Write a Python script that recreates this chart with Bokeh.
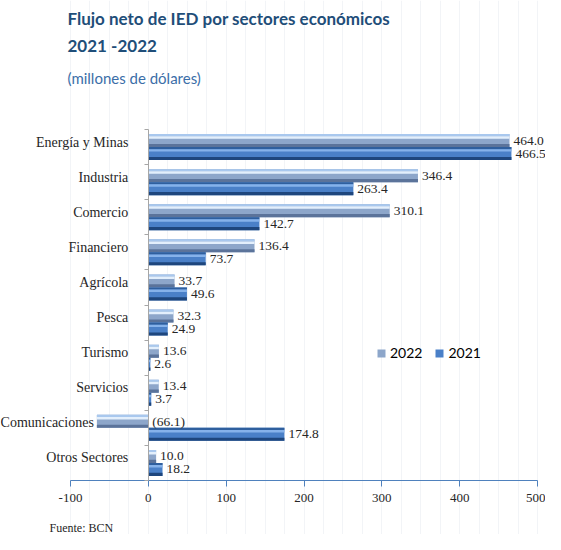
from bokeh.plotting import figure
from bokeh.models import (ColumnDataSource, Range1d, Label, Legend, LegendItem,
                          FixedTicker, LabelSet)
from bokeh.transform import dodge
from bokeh.core.properties import value
from bokeh.embed import file_html
from bokeh.resources import INLINE

sectores = ["Energía y Minas", "Industria", "Comercio", "Financiero", "Agrícola",
            "Pesca", "Turismo", "Servicios", "Comunicaciones", "Otros Sectores"]
v2022 = [464.0, 346.4, 310.1, 136.4, 33.7, 32.3, 13.6, 13.4, -66.1, 10.0]
v2021 = [466.5, 263.4, 142.7, 73.7, 49.6, 24.9, 2.6, 3.7, 174.8, 18.2]
x_ticks = [-100, 0, 100, 200, 300, 400, 500]
series = ["2022", "2021"]
titulo = ["Flujo neto de IED por sectores económicos", "2021 -2022"]
subtitulo = "(millones de dólares)"
fuente = "Fuente: BCN"

W, H = 545, 534
n = len(sectores)

# pixel layout targets (canvas coords, y from top)
px_xmin, px_xmax = 70, 537          # where x_ticks[0] and x_ticks[-1] fall
py_top, py_axis = 129, 480          # top of first band, x-axis line
sx = (px_xmax - px_xmin) / (x_ticks[-1] - x_ticks[0])
sy = (py_axis - py_top) / n
x0 = x_ticks[0] - px_xmin / sx
x1 = x_ticks[-1] + (W - px_xmax) / sx
y0 = -0.5 - (H - py_axis) / sy
y1 = (n - 0.5) + py_top / sy


def fmt(v):
    return f"({abs(v):.1f})" if v < 0 else f"{v:.1f}"


centers = [n - 1 - i for i in range(n)]
# category label anchor: 20px left of the axis, or 3px left of a negative bar
cat_x = [min(-20 / sx, min(a, b, 0) - 3 / sx) for a, b in zip(v2022, v2021)]
src = ColumnDataSource(dict(
    cat=sectores, y=centers, v22=v2022, v21=v2021,
    l22=[fmt(v) for v in v2022], l21=[fmt(v) for v in v2021],
    lx22=[max(v, 0) for v in v2022], lx21=[max(v, 0) for v in v2021],
    catx=cat_x, zero=[0] * n,
))

p = figure(width=W, height=H, x_range=Range1d(x0, x1), y_range=Range1d(y0, y1),
           output_backend="svg", toolbar_location=None,
           min_border_left=0, min_border_right=0, min_border_top=0, min_border_bottom=0)
p.title = None
p.outline_line_color = None
p.background_fill_color = "white"
p.border_fill_color = "white"

# grid
p.ygrid.grid_line_color = None
p.xgrid.ticker = FixedTicker(ticks=list(range(x_ticks[0], x_ticks[-1] + 1, 25)))
p.xgrid.grid_line_color = "#F2F4F7"
p.xgrid.bounds = (-0.5, n - 0.5)

# bars with a simple 3D shading
dodge_off = 0.185
bh = 0.37
styles = {
    "v22": dict(off=dodge_off, base="#8DA6CA", top="#A9C8EE", light="#E3EFFC", dark="#5B739A"),
    "v21": dict(off=-dodge_off, base="#4A80C8", top="#2F5F9E", light="#86B2EA", dark="#1E467D"),
}
main = {}
for col, st in styles.items():
    r = p.hbar(y=dodge("y", st["off"]), left="zero", right=col, height=bh,
               source=src, fill_color=st["base"], line_color=None)
    main[col] = r
    p.hbar(y=dodge("y", st["off"] + 0.155), left="zero", right=col, height=0.06,
           source=src, fill_color=st["top"], line_color=None)
    p.hbar(y=dodge("y", st["off"] + 0.09), left="zero", right=col, height=0.07,
           source=src, fill_color=st["light"], line_color=None)
    p.hbar(y=dodge("y", st["off"] - 0.14), left="zero", right=col, height=0.09,
           source=src, fill_color=st["dark"], line_color=None)

# value labels
for lx, lt, off in (("lx22", "l22", dodge_off), ("lx21", "l21", -dodge_off)):
    p.add_layout(LabelSet(x=lx, y=dodge("y", off), text=lt, source=src,
                          x_offset=4, text_baseline="middle",
                          text_font=value("Liberation Serif"), text_font_size="13.5px",
                          text_color="#262626"))

# category labels
p.add_layout(LabelSet(x="catx", y="y", text="cat", source=src, y_offset=5,
                      text_align="right", text_baseline="middle",
                      text_font=value("Liberation Serif"), text_font_size="14px",
                      text_color="#262626"))

# y axis at x = 0 (only boundary ticks)
p.yaxis.fixed_location = 0
p.yaxis.bounds = (-0.5, n - 0.5)
p.yaxis.ticker = FixedTicker(ticks=[], minor_ticks=[c + 0.5 for c in centers] + [-0.5])
p.yaxis.axis_line_color = "#A6A6A6"
p.yaxis.major_tick_line_color = None
p.yaxis.minor_tick_line_color = "#A6A6A6"
p.yaxis.minor_tick_out = 4
p.yaxis.minor_tick_in = 0

# x axis at bottom of bands
p.xaxis.fixed_location = -0.5
p.xaxis.bounds = (x_ticks[0], x_ticks[-1])
p.xaxis.ticker = FixedTicker(ticks=x_ticks)
p.xaxis.major_label_overrides = {t: str(t) for t in x_ticks}
p.xaxis.axis_line_color = "#4F81BD"
p.xaxis.major_tick_line_color = "#4F81BD"
p.xaxis.major_tick_out = 6
p.xaxis.major_tick_in = 0
p.xaxis.minor_tick_line_color = None
p.xaxis.major_label_standoff = 7
p.xaxis.major_label_text_font = "Liberation Serif"
p.xaxis.major_label_text_font_size = "13px"
p.xaxis.major_label_text_color = "#262626"

# legend
legend = Legend(items=[LegendItem(label=series[0], renderers=[main["v22"]]),
                       LegendItem(label=series[1], renderers=[main["v21"]])],
                orientation="horizontal", location=(376, 173),
                glyph_width=10, glyph_height=10, spacing=12, padding=0, margin=0,
                label_text_font="Lato", label_text_font_size="14px", label_text_color="#000000",
                label_standoff=4, background_fill_alpha=0, border_line_color=None)
p.add_layout(legend)


# titles and source
def add_text(txt, x, ycenter, font, size, style, color):
    p.add_layout(Label(x=x, y=H - ycenter, x_units="screen", y_units="screen", text=txt,
                       text_baseline="middle", text_font=font, text_font_size=size,
                       text_font_style=style, text_color=color))


add_text(titulo[0], 67, 18, "Lato", "17px", "bold", "#1F4E79")
add_text(titulo[1], 67, 45, "Lato", "17px", "bold", "#1F4E79")
add_text(subtitulo, 67, 77, "Lato", "15px", "normal", "#3B6EA8")
add_text(fuente, 49, 527, "Liberation Serif", "12px", "normal", "#262626")

open("out.html", "w").write(file_html(p, INLINE))
